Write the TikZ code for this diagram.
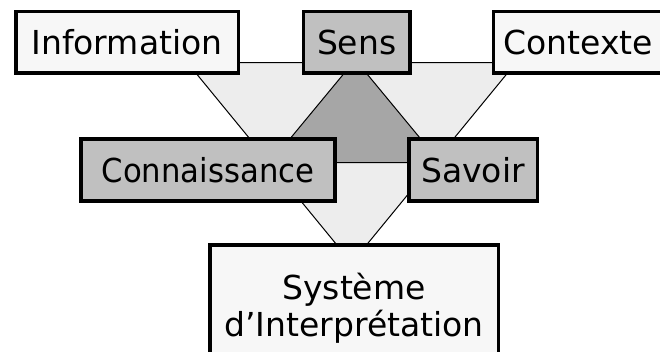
\documentclass[tikz,border=0pt]{standalone}
\usepackage{fontspec}
\setmainfont{DejaVu Sans}
\begin{document}
\begin{tikzpicture}[x=1pt,y=-1pt,
  box/.style={draw=black, line width=3.5pt, rectangle, inner sep=0pt,
    font=\fontsize{33}{37}\selectfont, align=center},
  pale/.style={box, fill=boxpale},
  grey/.style={box, fill=boxgrey},
  tri/.style={draw=black, line width=1pt, line join=miter}]
\definecolor{boxpale}{HTML}{F7F7F7}
\definecolor{boxgrey}{HTML}{C0C0C0}
\definecolor{trilight}{HTML}{EDEDED}
\definecolor{tridark}{HTML}{A6A6A6}
\useasboundingbox (0,0) rectangle (660,351);
\clip (0,0) rectangle (660,351);

% inverted triangle behind everything
\coordinate (L1) at (187.4,62.7);
\coordinate (L2) at (516,62.7);
\coordinate (L3) at (351.7,263);
\draw[tri, fill=trilight] (L1) -- (L2) -- (L3) -- cycle;

% upright triangle on top of it
\coordinate (D1) at (355.3,59.8);
\coordinate (D2) at (440.4,162.7);
\coordinate (D3) at (270.2,162.7);
\draw[tri, fill=tridark] (D1) -- (D2) -- (D3) -- cycle;

% boxes
\node[pale, minimum width=222.5, minimum height=61.5] (info) at (127,42) {Information};
\node[grey, minimum width=106.5, minimum height=61.5] (sens) at (356.7,42) {Sens};
\node[pale, minimum width=169.5, minimum height=61.5] (ctx) at (578.4,42) {Contexte};
\node[grey, minimum width=254, minimum height=62] (conn) at (208,170) {\scalebox{0.93}[1]{Connaissance}};
\node[grey, minimum width=128.5, minimum height=62] (sav) at (473,170) {Savoir};
\node[pale, minimum width=288.5, minimum height=127] (sys) at (354,308.5) {Système\\d’Interprétation};
\end{tikzpicture}
\end{document}
